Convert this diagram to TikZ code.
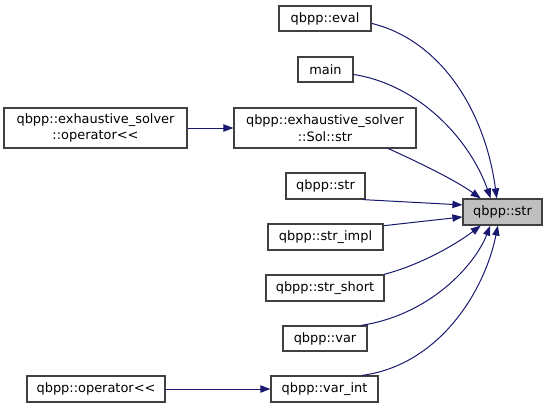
\documentclass[tikz,border=0pt]{standalone}
\usepackage{fontspec}
\setmainfont{DejaVu Sans}
\usetikzlibrary{arrows.meta}
\definecolor{edgeblue}{HTML}{191970}
\definecolor{boxline}{HTML}{404040}
\definecolor{hilite}{HTML}{BFBFBF}
\tikzset{
  fn/.style={draw=boxline, line width=0.9pt, fill=white, inner sep=0pt, align=center,
    font=\fontsize{9.7}{12.5}\selectfont},
  edge/.style={draw=edgeblue, line width=0.75pt, -{Triangle[length=7.5pt,width=5.5pt]}}
}
\begin{document}
\begin{tikzpicture}[x=0.75pt,y=-0.75pt]
\useasboundingbox (0,0) rectangle (548,408);
\node[fn, minimum width=69pt, minimum height=18.75pt] (eval) at (325,18.5) {qbpp::eval};
\node[fn, minimum width=41.25pt, minimum height=18.75pt] (main) at (325.5,69.5) {main};
\node[fn, minimum width=137.25pt, minimum height=30pt] (exop) at (95.5,128) {qbpp::exhaustive\_solver\\::operator<{}<};
\node[fn, minimum width=136.5pt, minimum height=30pt] (sol) at (325,128) {qbpp::exhaustive\_solver\\::Sol::str};
\node[fn, minimum width=59.25pt, minimum height=19.5pt] (strl) at (325.5,186) {qbpp::str};
\node[fn, fill=hilite, minimum width=59.25pt, minimum height=19.5pt] (target) at (502.5,212) {qbpp::str};
\node[fn, minimum width=86.25pt, minimum height=19.5pt] (impl) at (325.5,237) {qbpp::str\_impl};
\node[fn, minimum width=88.5pt, minimum height=19.5pt] (short) at (325,288) {qbpp::str\_short};
\node[fn, minimum width=63pt, minimum height=18.75pt] (var) at (325,338.5) {qbpp::var};
\node[fn, minimum width=80.25pt, minimum height=19.5pt] (varint) at (324.5,389) {qbpp::var\_int};
\node[fn, minimum width=103.5pt, minimum height=19.5pt] (op) at (96,389) {qbpp::operator<{}<};

\draw[edge] (eval.-6) .. controls (440,40) and (485,110) .. (target.113);
\draw[edge] (main.-10) .. controls (420,85) and (470,140) .. (target.131);
\draw[edge] (sol.-18) .. controls (420,163) and (455,180) .. (target.148);
\draw[edge] (strl.-20) -- (target.170);
\draw[edge] (impl.11) -- (target.187);
\draw[edge] (short.13.5) .. controls (420,265) and (455,245) .. (target.212);
\draw[edge] (var.20) .. controls (430,315) and (475,265) .. (target.228);
\draw[edge] (varint.20) .. controls (440,365) and (485,290) .. (target.251);
\draw[edge] (exop) -- (sol);
\draw[edge] (op) -- (varint);
\end{tikzpicture}
\end{document}
